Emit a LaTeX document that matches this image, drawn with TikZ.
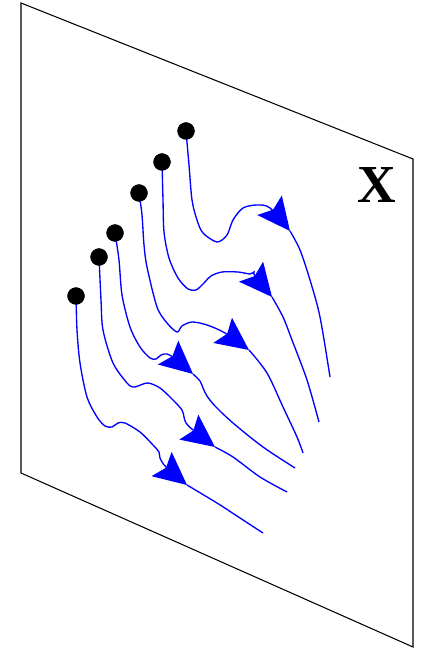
\documentclass[tikz,border=0pt]{standalone}
\usepackage{fontspec}
\setmainfont{Liberation Serif}
\usepackage{tikz}
\usetikzlibrary{arrows.meta}

\begin{document}
\begin{tikzpicture}[x=0.025cm, y=-0.025cm,
  flow/.style={blue, line width=0.95pt},
  flowtip/.style={flow, -{Stealth[length=0.82cm, width=0.78cm, inset=0.14cm]}},
  dot/.style={circle, fill=black, inner sep=0pt, minimum size=0.43cm},
  sheet/.style={draw, line width=0.75pt},
  lbl/.style={font=\fontsize{38}{40}\selectfont\bfseries},
]
\useasboundingbox (0,0) rectangle (423,648);
% the plane
\draw[sheet] (21,3) -- (413,159) -- (413,647) -- (21,473) -- cycle;
\node[lbl] (xlbl) at (377,185) {X};
% start points
\node[dot] (p1) at (186,131) {};
\node[dot] (p2) at (162,162) {};
\node[dot] (p3) at (139,193) {};
\node[dot] (p4) at (115,233) {};
\node[dot] (p5) at (99,257)  {};
\node[dot] (p6) at (76,296)  {};
% arrow tips and free ends
\coordinate (t1) at (290,231); \coordinate (e1) at (330,377);
\coordinate (t2) at (272,297); \coordinate (e2) at (319,422);
\coordinate (t3) at (249,350); \coordinate (e3) at (303,453);
\coordinate (t4) at (193,374); \coordinate (e4) at (295,468);
\coordinate (t5) at (215,447); \coordinate (e5) at (287,492);
\coordinate (t6) at (187,485); \coordinate (e6) at (263,533);
% trajectories
\draw[flowtip] plot[smooth] coordinates {(p1.center) (189,165) (192,200) (197,220)
  (203,233) (217,242) (227,235) (233,220) (243,208) (257,205) (270,208) (t1)};
\draw[flow] plot[smooth] coordinates {(t1) (300,250) (310,280) (320,317) (e1)};
\draw[flowtip] plot[smooth] coordinates {(p2.center) (163,200) (164,232) (169,258)
  (178,278) (188,289) (196,290) (203,284) (211,276) (222,272) (238,272)
  (250,274) (254,272) (255,276) (t2)};
\draw[flow] plot[smooth] coordinates {(t2) (283,317) (292,340) (307,380) (e2)};
\draw[flowtip] plot[smooth] coordinates {(p3.center) (142,215) (144,245) (147,267)
  (157,307) (167,323) (177,332) (182,326) (192,322) (207,325) (225,333) (t3)};
\draw[flow] plot[smooth] coordinates {(t3) (267,373) (283,407) (297,437) (e3)};
\draw[flowtip] plot[smooth] coordinates {(p4.center) (119,260) (122,295) (130,327)
  (140,347) (150,358) (156,359) (161,355) (167,354) (174,358) (t4)};
\draw[flow] plot[smooth] coordinates {(t4) (200,381) (203,388) (207,396) (215,406)
  (233,423) (263,447) (e4)};
\draw[flowtip] plot[smooth] coordinates {(p5.center) (101,300) (103,330) (113,363)
  (127,383) (133,387) (138,386) (148,383) (160,388) (173,400) (182,410)
  (184,417) (186,423) (193,430) (t5)};
\draw[flow] plot[smooth] coordinates {(t5) (233,457) (260,477) (e5)};
\draw[flowtip] plot[smooth] coordinates {(p6.center) (77,330) (80,363) (87,397)
  (97,417) (105,426) (112,427) (118,423) (125,423) (140,432) (153,445)
  (159,452) (160,458) (166,467) (t6)};
\draw[flow] plot[smooth] coordinates {(t6) (217,503) (240,518) (e6)};
% dots on top
\foreach \p in {p1,p2,p3,p4,p5,p6}
  \fill (\p) circle[radius=0.215cm];
\end{tikzpicture}
\end{document}
